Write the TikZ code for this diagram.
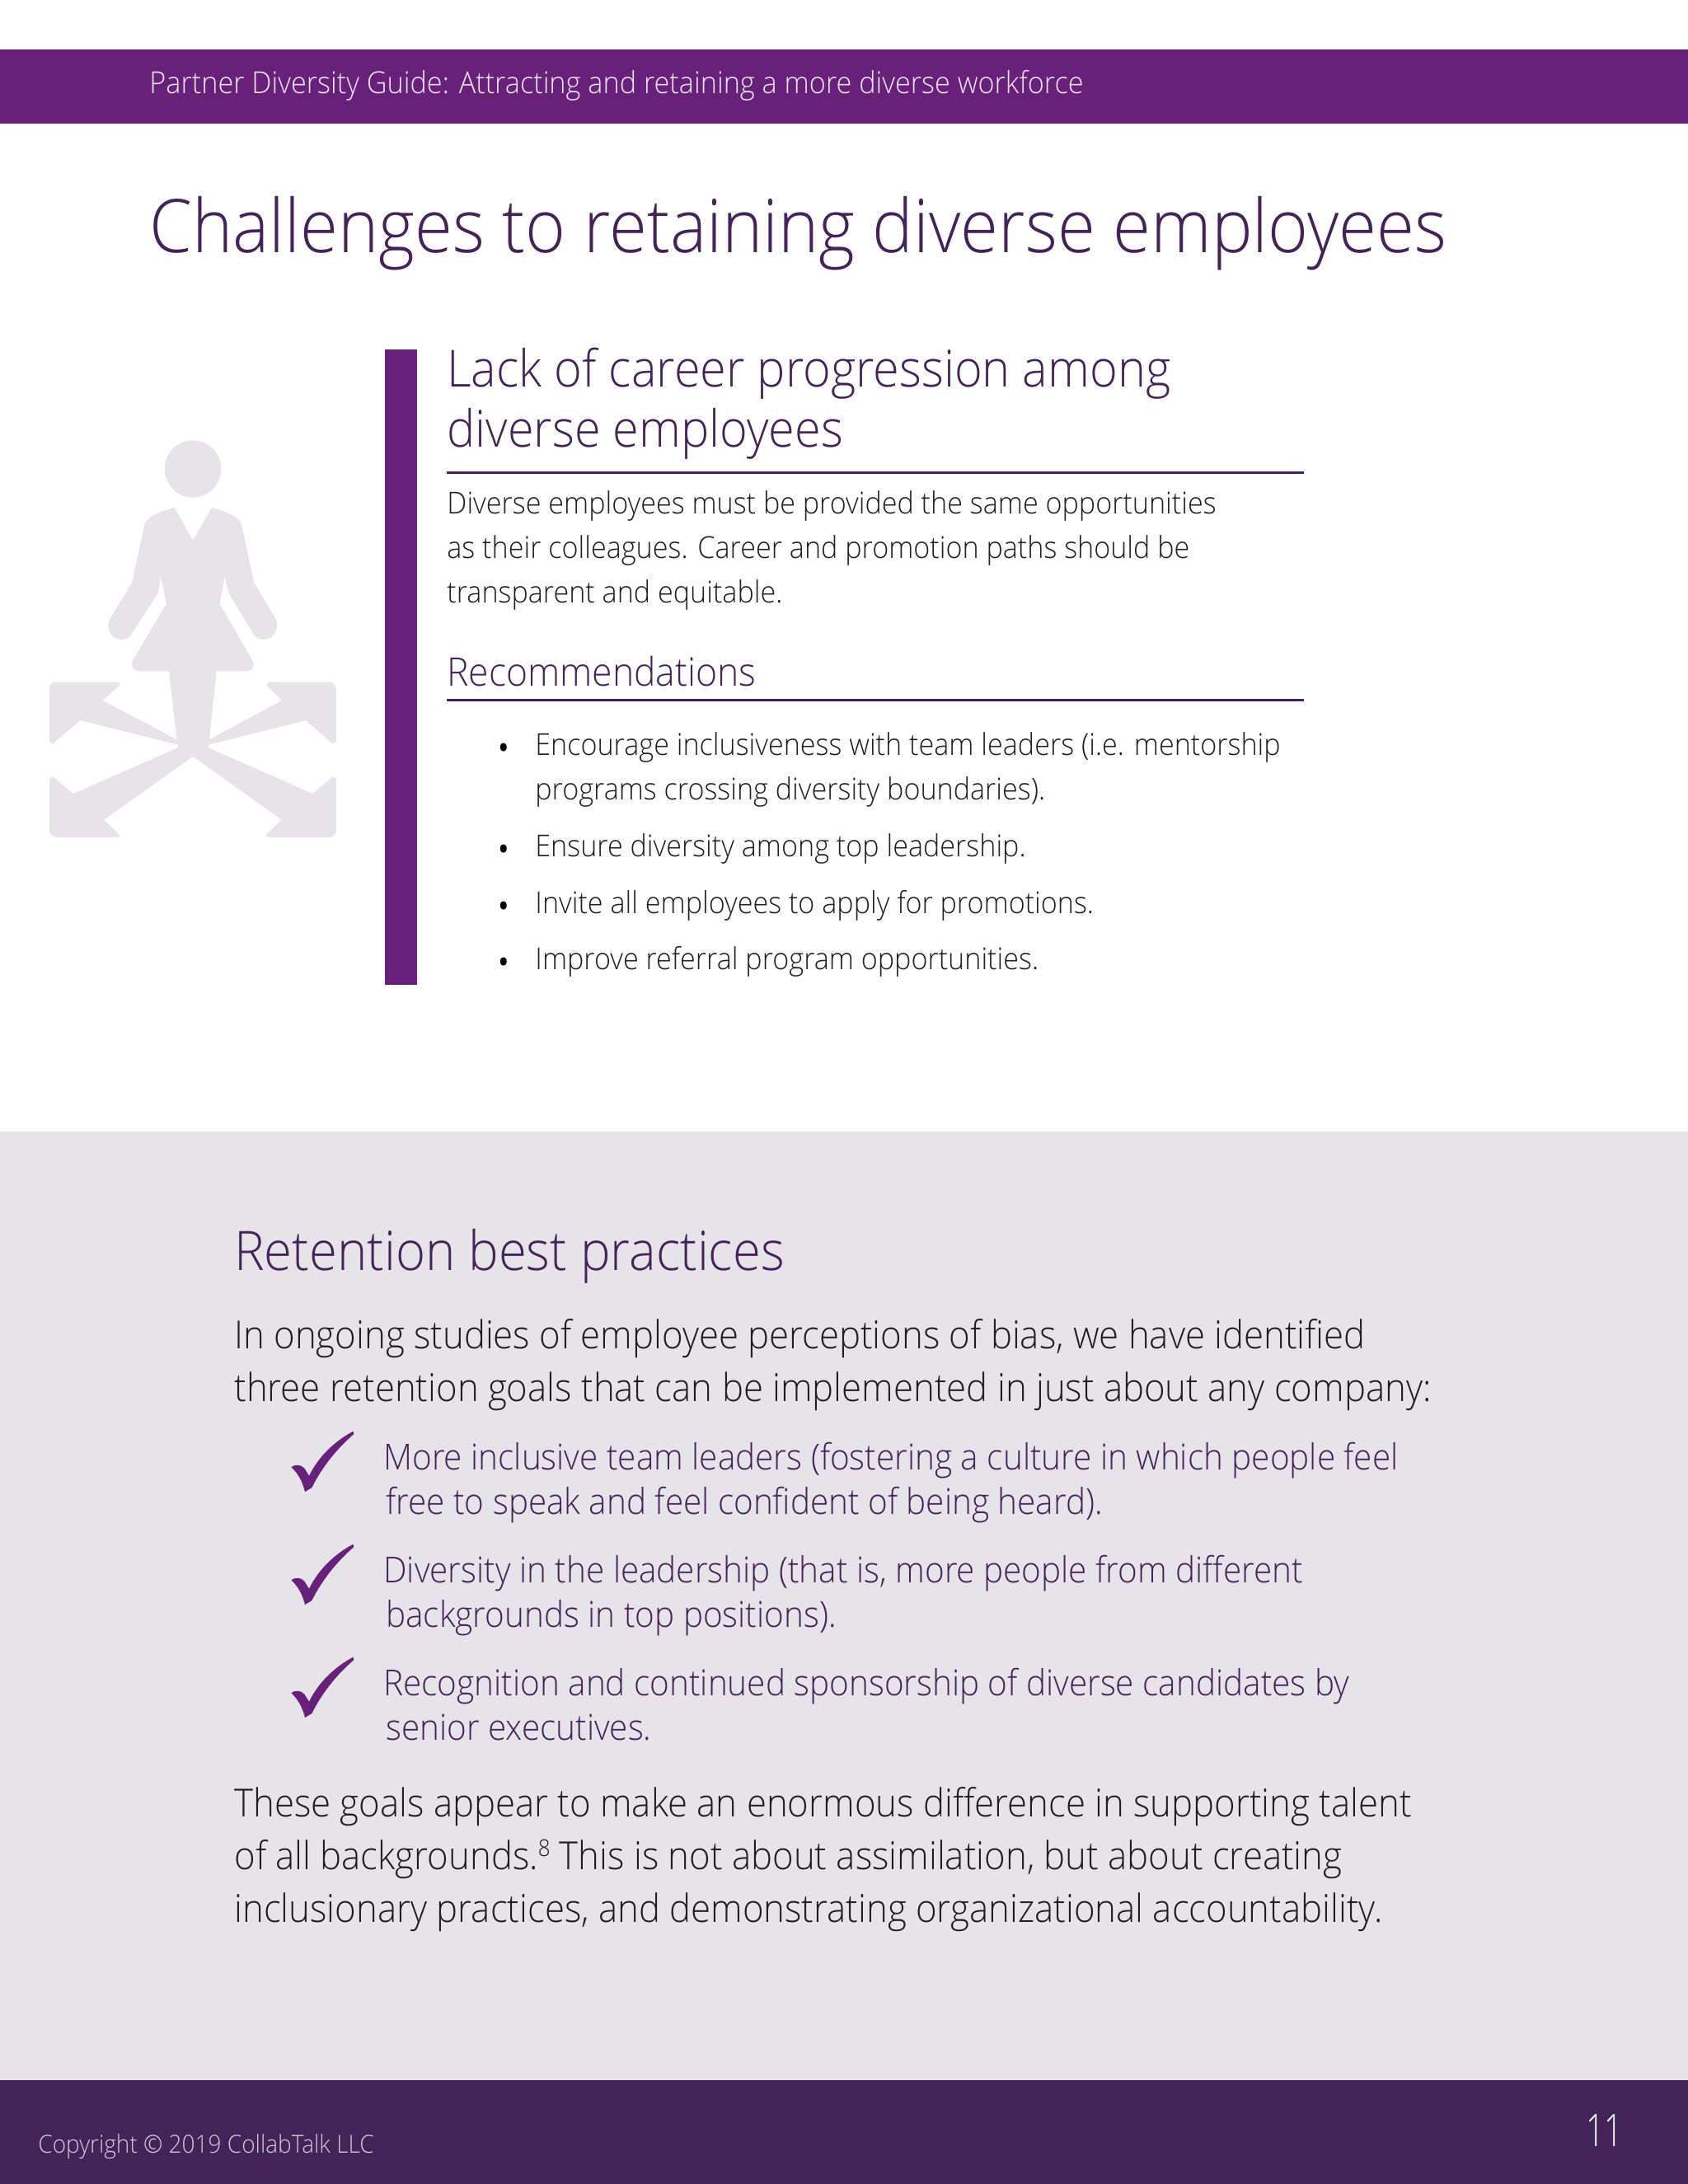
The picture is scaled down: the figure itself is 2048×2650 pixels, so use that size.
\documentclass[tikz,border=0pt]{standalone}
\usepackage{fontspec}
\setmainfont{Open Sans Light}[FakeStretch=0.93]
\newfontfamily\pagefont{Open Sans Light}[FakeStretch=0.72]
\definecolor{bandpurple}{HTML}{68217A}
\definecolor{darkpurple}{HTML}{442359}
\definecolor{panelgrey}{HTML}{E6E4E8}
\definecolor{bodygrey}{HTML}{1F1F1F}

\begin{document}
\begin{tikzpicture}[
	x=0.5pt, y=-0.5pt,
	txt/.style={anchor=base west, inner sep=0, align=left},
	bandtext/.style={txt, font=\fontsize{18.4}{24}\selectfont, text=white!88!bandpurple},
	title/.style={txt, font=\fontsize{44.9}{50}\selectfont, text=darkpurple},
	heading/.style={txt, font=\fontsize{31}{36.3}\selectfont, text=darkpurple},
	subhead/.style={txt, font=\fontsize{23.9}{27}\selectfont, text=darkpurple},
	body/.style={txt, font=\fontsize{18.35}{26.8}\selectfont, text=bodygrey},
	bigbody/.style={txt, font=\fontsize{23.5}{31.8}\selectfont, text=bodygrey},
	goal/.style={txt, font=\fontsize{21.76}{26.8}\selectfont, text=darkpurple},
	bulletdot/.style={txt, font=\fontsize{28}{30}\selectfont, text=black},
	rulestyle/.style={draw=darkpurple, line width=1.5pt},
	iconfill/.style={fill=panelgrey, draw=none}
]
\useasboundingbox (0,0) rectangle (2048,2650);

\fill[bandpurple] (0,60) rectangle (2048,150);
\fill[panelgrey] (0,1373) rectangle (2048,2524);
\fill[darkpurple] (0,2524) rectangle (2048,2650);
\fill[bandpurple] (467,424) rectangle (506,1195);

\node[bandtext] (band) at (181,113) {Partner Diversity Guide: Attracting and retaining a more diverse workforce};
\node[title] (title) at (181,306) {Challenges to retaining diverse employees};

% person on the arrows
\begin{scope}[shift={(40,500)}, x=0.1667pt, y=-0.1786pt]
\fill[iconfill] (582,193) ellipse [x radius=103, y radius=97];
\fill[iconfill] (515,325) -- (582,435) -- (650,325) .. controls (700,335) and (745,355) .. (758,378)
	-- (805,580) -- (885,705) .. controls (900,745) and (865,775) .. (840,772) .. controls (820,772) and (810,765) .. (800,750)
	-- (712,615) -- (697,560) -- (680,652) -- (800,845) .. controls (808,860) and (800,880) .. (780,880)
	-- (668,880) -- (642,1112) -- (905,980) -- (848,925) -- (858,917) -- (1080,917)
	.. controls (1095,917) and (1103,930) .. (1103,940) -- (1103,1120) -- (1090,1127) -- (993,1047) -- (640,1130) -- (638,1140)
	-- (1017,1296) -- (1092,1238) -- (1103,1245) -- (1103,1430) -- (1085,1445) -- (852,1445) -- (848,1435) -- (905,1385)
	-- (582,1170) -- (258,1385) -- (315,1435) -- (312,1445) -- (80,1445) -- (60,1430) -- (60,1245) -- (72,1238) -- (147,1296)
	-- (527,1140) -- (527,1130) -- (172,1047) -- (72,1127) -- (60,1120) -- (60,940) .. controls (60,930) and (68,917) .. (80,917)
	-- (312,917) -- (317,925) -- (255,980) -- (523,1112) -- (495,880) -- (385,880) .. controls (365,880) and (355,860) .. (362,845)
	-- (485,652) -- (466,560) -- (455,615) -- (362,750) .. controls (350,768) and (340,772) .. (322,772) .. controls (295,775) and (262,745) .. (278,705)
	-- (360,580) -- (407,378) .. controls (420,355) and (465,335) .. (515,325) -- cycle;
\end{scope}

\node[heading] (lack) at (542,542) {Lack of career progression among\\diverse employees};
\draw[rulestyle] (542,573) -- (1582,573);
\node[body] (intro) at (542,731) {Diverse employees must be provided the same opportunities\\as their colleagues. Career and promotion paths should be\\transparent and equitable.};
\node[subhead] (recs) at (542,832) {Recommendations};
\draw[rulestyle] (542,849) -- (1582,849);

\node[bulletdot] (dot1) at (601.5,927) {•};
\node[bulletdot] (dot2) at (601.5,1050) {•};
\node[bulletdot] (dot3) at (601.5,1119) {•};
\node[bulletdot] (dot4) at (601.5,1187) {•};
\node[body] (rec1) at (649,970) {Encourage inclusiveness with team leaders (i.e. mentorship\\programs crossing diversity boundaries).};
\node[body] (rec2) at (649,1039) {Ensure diversity among top leadership.};
\node[body] (rec3) at (649,1108) {Invite all employees to apply for promotions.};
\node[body] (rec4) at (649,1176) {Improve referral program opportunities.};

\node[txt, font=\fontsize{33.1}{38}\selectfont, text=darkpurple] (retain) at (284,1541) {Retention best practices};
\node[bigbody] (studies) at (284,1700) {In ongoing studies of employee perceptions of bias, we have identified\\three retention goals that can be implemented in just about any company:};

% check marks
\foreach \dy in {0,137,274} {
	\begin{scope}[shift={(320,1700+\dy)}, x=0.1667pt, y=-0.1667pt]
	\fill[bandpurple] (100,240) .. controls (115,230) and (135,230) .. (148,245) -- (165,272)
		.. controls (200,200) and (260,145) .. (325,110) -- (328,120) .. controls (270,170) and (215,235) .. (175,315)
		-- (150,330) .. controls (140,290) and (125,265) .. (100,240) -- cycle;
	\end{scope}
}

\node[goal] (goal1) at (465,1837) {More inclusive team leaders (fostering a culture in which people feel\\\hspace*{1.5pt}free to speak and feel confident of being heard).};
\node[goal] (goal2) at (465,1974) {Diversity in the leadership (that is, more people from different\\\hspace*{1.5pt}backgrounds in top positions).};
\node[goal] (goal3) at (465,2111) {Recognition and continued sponsorship of diverse candidates by\\\hspace*{1.5pt}senior executives.};

\node[bigbody] (these) at (284,2332) {These goals appear to make an enormous difference in supporting talent\\of all backgrounds.\raisebox{8pt}{\fontsize{14}{14}\selectfont 8} This is not about assimilation, but about creating\\inclusionary practices, and demonstrating organizational accountability.};

\node[txt, font=\fontsize{15.05}{20}\selectfont, text=white!75!darkpurple] (copy) at (46,2612) {Copyright © 2019 CollabTalk LLC};
\node[txt, font=\fontsize{27.3}{30}\selectfont\pagefont, text=white] (pagenum) at (1924,2604) {11};
\end{tikzpicture}
\end{document}
